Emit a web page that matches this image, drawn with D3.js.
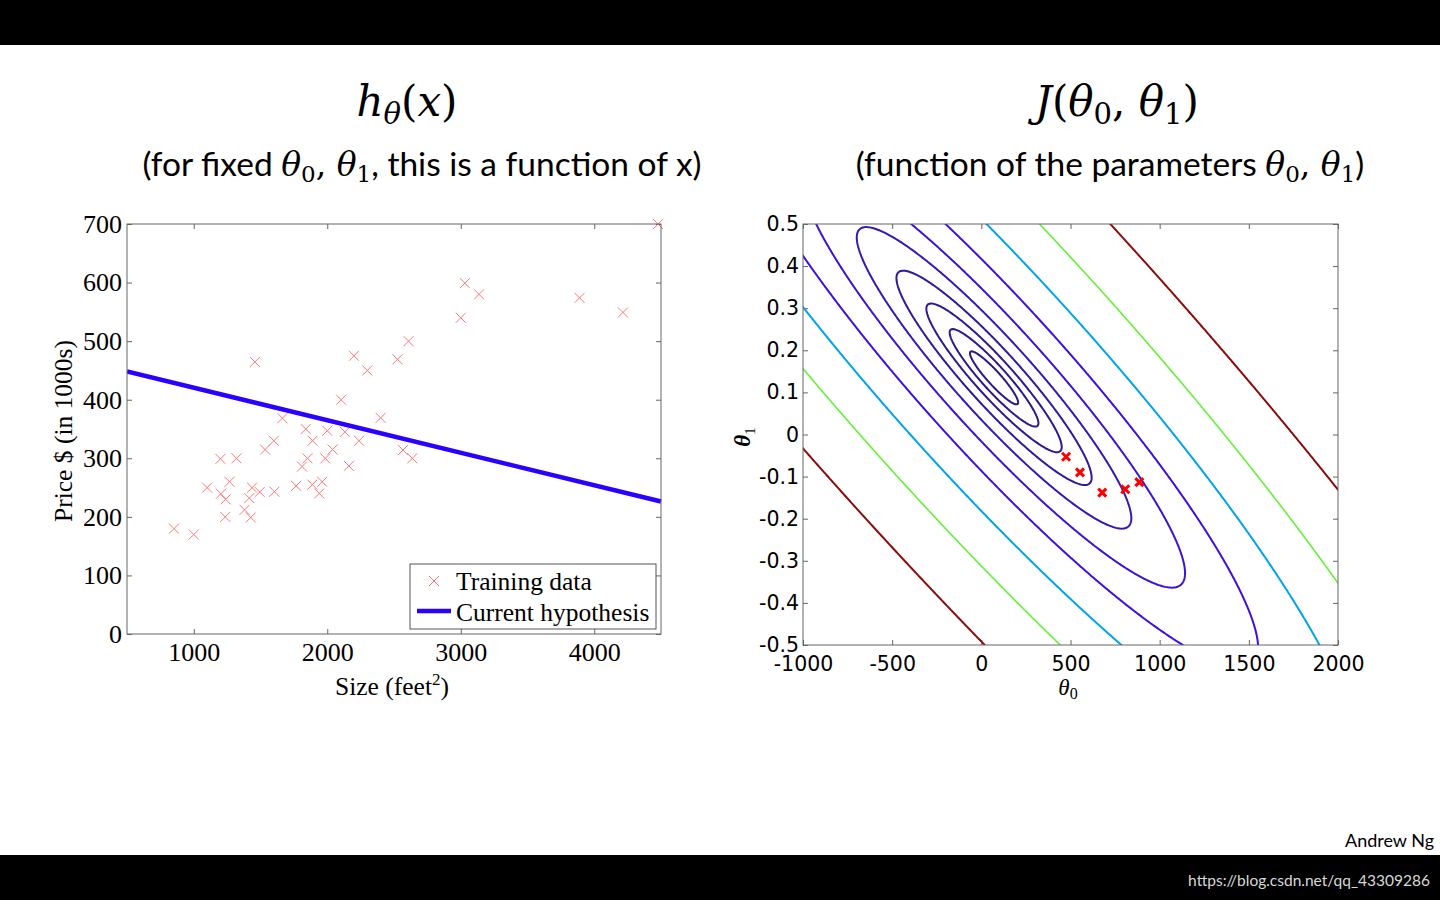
<!DOCTYPE html>
<html><head><meta charset="utf-8">
<script src="https://cdn.jsdelivr.net/npm/d3@7"></script>
<style>body{margin:0;background:#fff;} svg{display:block}</style>
</head><body>
<svg id="c" width="1440" height="900"></svg>
<script>
// ---------- data ----------
const sizes = [2104,1600,2400,1416,3000,1985,1534,1427,1380,1494,1940,2000,1890,4478,1268,2300,1320,1236,2609,3031,1767,1888,1604,1962,3890,1100,1458,2526,2200,2637,1839,1000,2040,3137,1811,1437,1239,2132,4215,2162,1664,2238,2567,1200,852,1852,1203];
const prices = [399.9,329.9,369.0,232.0,539.9,299.9,314.9,199.0,212.0,242.5,240.0,347.0,330.0,699.9,259.9,449.9,299.9,199.9,500.0,599.0,252.9,255.0,242.9,259.9,573.9,249.9,464.5,469.0,475.0,299.9,349.9,169.9,314.9,579.9,285.9,249.9,229.9,345.0,549.0,287.0,368.5,329.9,314.0,299.0,179.9,299.9,239.5];
const hypothesis = [476, -0.0555];           // theta0, theta1 of the drawn line
const sizeTicks = [1000,2000,3000,4000];
const priceTicks = [0,100,200,300,400,500,600,700];
const theta0Ticks = [-1000,-500,0,500,1000,1500,2000];
const theta0Labels = ["-1000","-500","0","500","1000","1500","2000"];
const theta1Ticks = [0.5,0.4,0.3,0.2,0.1,0,-0.1,-0.2,-0.3,-0.4,-0.5];
const theta1Labels = ["0.5","0.4","0.3","0.2","0.1","0","-0.1","-0.2","-0.3","-0.4","-0.5"];
const costLevels = [3290, 6210, 11700, 22100, 41700, 78800, 148700, 280700, 529900, 1000000];
const steps0 = [475, 553, 678, 807, 886];
const steps1 = [-0.053, -0.090, -0.138, -0.130, -0.113];

// styles
const levelColors = ["#2a1a88","#2a1a8c","#2b1a92","#2d1a9c","#3318b8","#3a12d8","#3d0ee6","#00a4ee","#66f03a","#8a0c0c"];
const levelWidths = [2,2,2,2,2,2,2,2,1.6,2];

const svg = d3.select("#c");
const SERIF = "'Liberation Serif', 'DejaVu Serif', serif";
const MATH = "'DejaVu Serif', 'Liberation Serif', serif";
const SANS = "Lato, 'Open Sans', sans-serif";
const NUMSANS = "'DejaVu Sans', sans-serif";

// background bars
svg.append("rect").attr("x",0).attr("y",0).attr("width",1440).attr("height",45).attr("fill","#000");
svg.append("rect").attr("x",0).attr("y",855).attr("width",1440).attr("height",45).attr("fill","#000");

// ---------- titles ----------
function mathTitle(x, y, parts) {
  const t = svg.append("text").attr("x", x).attr("y", y).attr("text-anchor","middle")
    .attr("font-family", MATH).attr("font-size", 42).attr("font-weight",300).attr("fill","#000");
  parts.forEach(p => {
    const s = t.append("tspan").text(p.t);
    if (p.i) s.attr("font-style","italic");
    if (p.sub) s.attr("font-size", 29);
    if (p.dy) s.attr("dy", p.dy);
  });
  return t;
}
mathTitle(407, 116, [{t:"h",i:1},{t:"θ",i:1,sub:1,dy:8},{t:"(",dy:-8},{t:"x",i:1},{t:")"}]);
mathTitle(1117, 116, [{t:"J",i:1},{t:"("},{t:"θ",i:1},{t:"0",sub:1,dy:8},{t:", ",dy:-8},{t:"θ",i:1},{t:"1",sub:1,dy:8},{t:")",dy:-8}]);

function subTitle(x, y, parts) {
  const t = svg.append("text").attr("x", x).attr("y", y).attr("text-anchor","middle")
    .attr("font-family", SANS).attr("font-size", 33.5).attr("fill","#000");
  parts.forEach(p => {
    const s = t.append("tspan").text(p.t);
    if (p.m) s.attr("font-family", MATH).attr("font-size", 33);
    if (p.i) s.attr("font-style","italic");
    if (p.sub) s.attr("font-size", 23);
    if (p.dy) s.attr("dy", p.dy);
  });
}
subTitle(422, 176, [{t:"(for fixed "},{t:"θ",m:1,i:1},{t:"0",m:1,sub:1,dy:6},{t:", ",m:1,dy:-6},{t:"θ",m:1,i:1},{t:"1",m:1,sub:1,dy:6},{t:", this is a function of x)",dy:-6}]);
subTitle(1110, 176, [{t:"(function of the parameters  "},{t:"θ",m:1,i:1},{t:"0",m:1,sub:1,dy:6},{t:", ",m:1,dy:-6},{t:"θ",m:1,i:1},{t:"1",m:1,sub:1,dy:6},{t:")",dy:-6}]);

// ---------- left plot ----------
const L = {x0:127, x1:661, y0:224, y1:634};
const xL = d3.scaleLinear().domain([500,4500]).range([L.x0, L.x1]);
const yL = d3.scaleLinear().domain([0,700]).range([L.y1, L.y0]);
const gL = svg.append("g");

function styleAxis(g, font, size) {
  g.select(".domain").remove();
  g.selectAll(".tick line").attr("stroke","#666");
  g.selectAll(".tick text").attr("font-family", font).attr("font-size", size).attr("fill","#000");
}
gL.append("g").attr("transform",`translate(0,${L.y1})`)
  .call(d3.axisBottom(xL).tickValues(sizeTicks).tickSizeInner(-5).tickSizeOuter(0).tickPadding(9).tickFormat(d3.format("d")))
  .call(g => styleAxis(g, SERIF, 26));
gL.append("g").attr("transform",`translate(0,${L.y0})`)
  .call(d3.axisTop(xL).tickValues(sizeTicks).tickSizeInner(-5).tickSizeOuter(0).tickFormat(""))
  .call(g => styleAxis(g, SERIF, 26));
gL.append("g").attr("transform",`translate(${L.x0},0)`)
  .call(d3.axisLeft(yL).tickValues(priceTicks).tickSizeInner(-5).tickSizeOuter(0).tickPadding(5).tickFormat(d3.format("d")))
  .call(g => styleAxis(g, SERIF, 26));
gL.append("g").attr("transform",`translate(${L.x1},0)`)
  .call(d3.axisRight(yL).tickValues(priceTicks).tickSizeInner(-5).tickSizeOuter(0).tickFormat(""))
  .call(g => styleAxis(g, SERIF, 26));

svg.append("clipPath").attr("id","clipL").append("rect")
  .attr("x",L.x0).attr("y",L.y0-6).attr("width",L.x1-L.x0+6).attr("height",L.y1-L.y0+6);

const crossPath = r => `M${-r},${-r}L${r},${r}M${-r},${r}L${r},${-r}`;
const pts = sizes.map((s,i)=>({x:s, y:prices[i]}));
gL.append("g").attr("clip-path","url(#clipL)").selectAll("path").data(pts).join("path")
  .attr("transform", d=>`translate(${xL(d.x)},${yL(d.y)})`)
  .attr("d", crossPath(5)).attr("stroke","#ff7878").attr("stroke-width",1).attr("fill","none");

const hx = xL.domain();
gL.append("line").attr("clip-path","url(#clipL)")
  .attr("x1", xL(hx[0])).attr("y1", yL(hypothesis[0]+hypothesis[1]*hx[0]))
  .attr("x2", xL(hx[1])).attr("y2", yL(hypothesis[0]+hypothesis[1]*hx[1]))
  .attr("stroke","#2a00ff").attr("stroke-width",4.5);

gL.append("rect").attr("x",L.x0).attr("y",L.y0).attr("width",L.x1-L.x0).attr("height",L.y1-L.y0)
  .attr("fill","none").attr("stroke","#666").attr("stroke-width",1);

// legend
const lg = gL.append("g");
lg.append("rect").attr("x",410).attr("y",564).attr("width",246).attr("height",65)
  .attr("fill","#fff").attr("stroke","#555").attr("stroke-width",1);
lg.append("path").attr("transform","translate(434,581)").attr("d",crossPath(5))
  .attr("stroke","#ff7878").attr("stroke-width",1).attr("fill","none");
lg.append("line").attr("x1",417).attr("x2",451).attr("y1",611).attr("y2",611)
  .attr("stroke","#2a00ff").attr("stroke-width",4.5);
lg.append("text").attr("x",456).attr("y",590).text("Training data")
  .attr("font-family",SERIF).attr("font-size",25.5);
lg.append("text").attr("x",456).attr("y",621).text("Current hypothesis")
  .attr("font-family",SERIF).attr("font-size",25.5);

// axis labels
svg.append("text").attr("transform","translate(72,431) rotate(-90)").attr("text-anchor","middle")
  .attr("font-family",SERIF).attr("font-size",25.5).text("Price $ (in 1000s)");
const xlab = svg.append("text").attr("x",392).attr("y",695).attr("text-anchor","middle")
  .attr("font-family",SERIF).attr("font-size",25.5);
xlab.append("tspan").text("Size (feet");
xlab.append("tspan").text("2").attr("font-size",17).attr("dy",-10);
xlab.append("tspan").text(")").attr("dy",10);

// ---------- right plot ----------
const R = {x0:803, x1:1338, y0:224, y1:645};
const xR = d3.scaleLinear().domain([-1000,2000]).range([R.x0, R.x1]);
const yR = d3.scaleLinear().domain([-0.5,0.5]).range([R.y1, R.y0]);
const gR = svg.append("g");

gR.append("g").attr("transform",`translate(0,${R.y1})`)
  .call(d3.axisBottom(xR).tickValues(theta0Ticks).tickSizeInner(-5).tickSizeOuter(0).tickPadding(11)
        .tickFormat((d,i)=>theta0Labels[i]))
  .call(g => styleAxis(g, NUMSANS, 20.5));
gR.append("g").attr("transform",`translate(0,${R.y0})`)
  .call(d3.axisTop(xR).tickValues(theta0Ticks).tickSizeInner(-5).tickSizeOuter(0).tickFormat(""))
  .call(g => styleAxis(g, NUMSANS, 20.5));
gR.append("g").attr("transform",`translate(${R.x0},0)`)
  .call(d3.axisLeft(yR).tickValues(theta1Ticks).tickSizeInner(-5).tickSizeOuter(0).tickPadding(4)
        .tickFormat((d,i)=>theta1Labels[i]))
  .call(g => styleAxis(g, NUMSANS, 20.5));
gR.append("g").attr("transform",`translate(${R.x1},0)`)
  .call(d3.axisRight(yR).tickValues(theta1Ticks).tickSizeInner(-5).tickSizeOuter(0).tickFormat(""))
  .call(g => styleAxis(g, NUMSANS, 20.5));

// cost surface J(theta0, theta1) from the training data
const m = sizes.length;
const nx = 420, ny = 300;
const a0 = -1100, a1 = 2100, b0 = -0.56, b1 = 0.56;
const da = (a1-a0)/(nx-1), db = (b1-b0)/(ny-1);
const Sx = d3.sum(sizes)/m, Sy = d3.sum(prices)/m;
const Sxx = d3.sum(sizes, v=>v*v)/m, Syy = d3.sum(prices, v=>v*v)/m;
const Sxy = d3.sum(sizes.map((v,i)=>v*prices[i]))/m;
const values = new Float64Array(nx*ny);
for (let j=0;j<ny;j++) {
  const b = b0 + j*db;
  for (let i=0;i<nx;i++) {
    const a = a0 + i*da;
    values[j*nx+i] = 0.5*(a*a + 2*a*b*Sx + b*b*Sxx - 2*a*Sy - 2*b*Sxy + Syy);
  }
}
const contours = d3.contours().size([nx,ny]).thresholds(costLevels)(values);
const proj = d3.geoTransform({point: function(x,y){
  this.stream.point(xR(a0 + (x-0.5)*da), yR(b0 + (y-0.5)*db));
}});
const cpath = d3.geoPath(proj);
svg.append("clipPath").attr("id","clipR").append("rect")
  .attr("x",R.x0).attr("y",R.y0).attr("width",R.x1-R.x0).attr("height",R.y1-R.y0);
gR.append("g").attr("clip-path","url(#clipR)").selectAll("path").data(contours).join("path")
  .attr("d", cpath).attr("fill","none")
  .attr("stroke",(d,i)=>levelColors[i]).attr("stroke-width",(d,i)=>levelWidths[i])
  .attr("stroke-linejoin","round");

// gradient-descent / hypothesis points
gR.append("g").selectAll("path").data(steps0.map((v,i)=>[v,steps1[i]])).join("path")
  .attr("transform", d=>`translate(${xR(d[0])},${yR(d[1])})`)
  .attr("d", crossPath(4)).attr("stroke","#ff0000").attr("stroke-width",3).attr("fill","none");

gR.append("rect").attr("x",R.x0).attr("y",R.y0).attr("width",R.x1-R.x0).attr("height",R.y1-R.y0)
  .attr("fill","none").attr("stroke","#666").attr("stroke-width",1);

// theta labels
const t0 = svg.append("text").attr("x",1068).attr("y",695).attr("text-anchor","middle")
  .attr("font-family",SERIF).attr("font-size",23);
t0.append("tspan").text("θ").attr("font-style","italic");
t0.append("tspan").text("0").attr("font-size",16).attr("dy",4);
const t1 = svg.append("text").attr("transform","translate(750,437) rotate(-90)").attr("text-anchor","middle")
  .attr("font-family",SERIF).attr("font-size",23).attr("font-weight","bold");
t1.append("tspan").text("θ").attr("font-style","italic");
t1.append("tspan").text("1").attr("font-size",15).attr("font-weight","normal").attr("dy",5);

// footer
svg.append("text").attr("x",1345).attr("y",847).attr("font-family",SANS).attr("font-size",18)
  .attr("fill","#000").text("Andrew Ng");
svg.append("text").attr("x",1430).attr("y",886).attr("text-anchor","end").attr("font-family",SANS)
  .attr("font-size",15.5).attr("fill","#d8d8d8").text("https://blog.csdn.net/qq_43309286");
</script>
</body></html>
